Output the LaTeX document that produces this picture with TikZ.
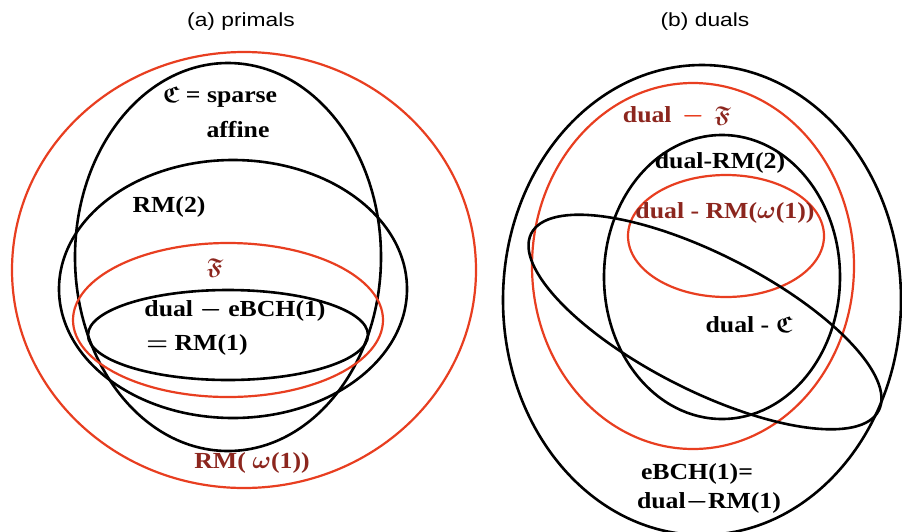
\documentclass[tikz,border=0pt]{standalone}
\usepackage{amsmath}
\usepackage{amssymb}
\usepackage{fontspec}
\newfontfamily\labfont[FakeStretch=1.12]{Liberation Serif}
\newfontfamily\titlefont[FakeStretch=1.2]{Liberation Sans}
\definecolor{redline}{RGB}{232,62,32}
\definecolor{redtext}{RGB}{140,38,30}
\newcommand{\bfk}[1]{\boldsymbol{\mathfrak{#1}}}
\tikzset{
  blackset/.style={draw=black, line width=2.6pt},
  redset/.style={draw=redline, line width=2.2pt},
  lab/.style={font=\labfont\bfseries\fontsize{23}{26}\selectfont, inner sep=0pt, text=black},
  redlab/.style={lab, text=redtext},
  ttl/.style={font=\titlefont\fontsize{19}{21}\selectfont, inner sep=0pt}
}
\begin{document}
\begin{tikzpicture}[x=1pt,y=-1pt]
\useasboundingbox[fill=white] (0,0) rectangle (902,531);
% ---- (a) primals ----
\node[ttl] (ta) at (241,22) {(a) primals};
\draw[redset] (244,270) ellipse [x radius=232pt, y radius=218pt];
\draw[blackset] (228,257) ellipse [x radius=153pt, y radius=194pt];
\draw[blackset] (233,289) ellipse [x radius=174pt, y radius=129pt];
\draw[redset] (228,320) ellipse [x radius=155pt, y radius=77pt];
\draw[blackset] (228,335) ellipse [x radius=140pt, y radius=45pt];
\node[lab] (c1) at (220,97) {$\bfk{C}$ = sparse};
\node[lab] (c2) at (238,130) {affine};
\node[lab] (rm2) at (169,207) {RM(2)};
\node[redlab] (ff) at (215,268) {$\bfk{F}$};
\node[lab] (eb1) at (235,311) {dual $\boldsymbol{-}$ eBCH(1)};
\node[lab] (eb2) at (197,345) {$\boldsymbol{=}$ RM(1)};
\node[redlab] (rmw) at (252,463) {RM( $\boldsymbol{\omega}$(1))};
% ---- (b) duals ----
\node[ttl] (tb) at (705,22) {(b) duals};
\draw[blackset] (702,300) ellipse [x radius=199pt, y radius=235pt];
\draw[redset] (693,266) ellipse [x radius=161pt, y radius=183pt];
\draw[blackset] (722,277) ellipse [x radius=118pt, y radius=142pt];
\draw[redset] (726,236) ellipse [x radius=98pt, y radius=61pt];
\draw[blackset, rotate around={-27:(705,322)}] (705,322) ellipse [x radius=195pt, y radius=68pt];
\node[redlab] (df) at (677,116) {dual \,{\color{redline}$\boldsymbol{-}$}\, $\bfk{F}$};
\node[lab] (drm2) at (720,163) {dual-RM(2)};
\node[redlab] (drmw) at (725,213) {dual - RM($\boldsymbol{\omega}$(1))};
\node[lab] (dc) at (749,325) {dual - $\bfk{C}$};
\node[lab] (e1) at (697,474) {eBCH(1)=};
\node[lab] (e2) at (709,503) {dual$\boldsymbol{-}$RM(1)};
\end{tikzpicture}
\end{document}
